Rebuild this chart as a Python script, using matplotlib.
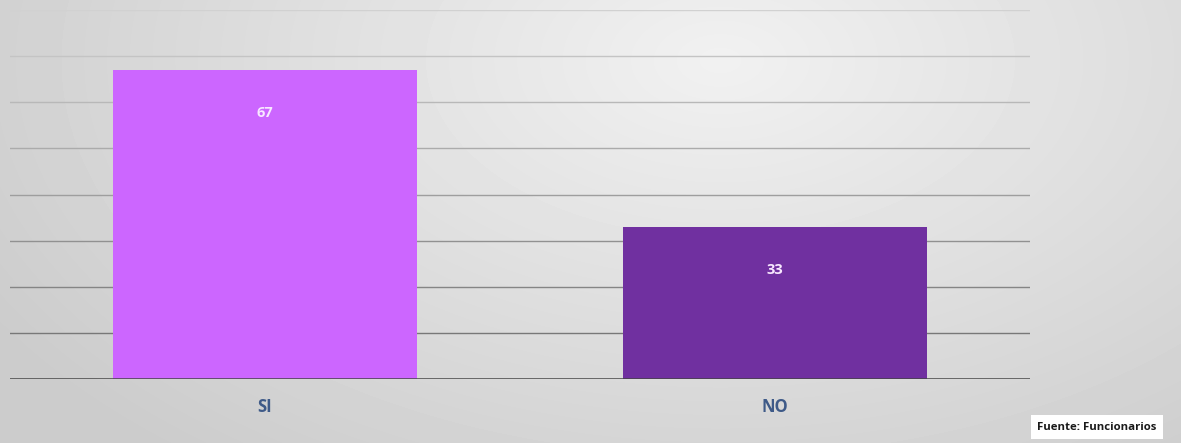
import matplotlib.pyplot as plt
import numpy as np

# survey answers and their share in percent
categories = ["SI", "NO"]
values = [67, 33]
bar_colors = ["#CC66FF", "#7030A0"]
grid_levels = [10, 20, 30, 40, 50, 60, 70, 80]

plt.rcParams["font.family"] = ["Open Sans", "DejaVu Sans"]

fig = plt.figure(figsize=(11.81, 4.43), dpi=100)

# soft gray backdrop, lighter toward the upper middle
bg = fig.add_axes([0, 0, 1, 1], zorder=-10)
h, w = 443, 1181
yy, xx = np.mgrid[0:h, 0:w]
dist = np.sqrt(((xx - 720) / 700.0) ** 2 + ((yy - 60) / 420.0) ** 2)
shade = np.clip(0.945 - 0.12 * dist, 0.80, 0.95)
bg.imshow(shade, cmap="gray", vmin=0, vmax=1, aspect="auto", interpolation="bilinear")
bg.axis("off")

ax = fig.add_axes([10 / 1181, 1 - 379 / 443, 1020 / 1181, 369 / 443])
ax.patch.set_alpha(0)

x = np.arange(len(categories))
bars = ax.bar(x, values, width=0.598, color=bar_colors, zorder=3)

# gridlines fade out toward the top
for lvl in grid_levels:
    g = 0.42 + 0.40 * (lvl / 80.0)
    ax.axhline(lvl, color=(g, g, g), linewidth=1.0, zorder=1)
ax.axhline(0, color="#454545", linewidth=1.8, zorder=4)

for bar, v in zip(bars, values):
    ax.text(bar.get_x() + bar.get_width() / 2, v - 9.3, str(v),
            ha="center", va="center", color="#F8E8FF",
            fontsize=10.5, fontweight="bold", zorder=5)

ax.set_xlim(-0.5, 1.5)
ax.set_ylim(0, 80)
ax.set_xticks(x)
ax.set_xticklabels(categories, fontsize=12, fontweight="bold", color="#3E5A88")
ax.tick_params(axis="x", length=0, pad=14)
ax.set_yticks([])
for s in ax.spines.values():
    s.set_visible(False)

fig.text(1097 / 1181, 1 - 427 / 443, "Fuente: Funcionarios", ha="center", va="center",
         fontsize=8.2, fontweight="bold", color="#1a1a1a",
         bbox=dict(boxstyle="square,pad=0.55", facecolor="white", edgecolor="none"))

fig.savefig("out.png", dpi=100)
